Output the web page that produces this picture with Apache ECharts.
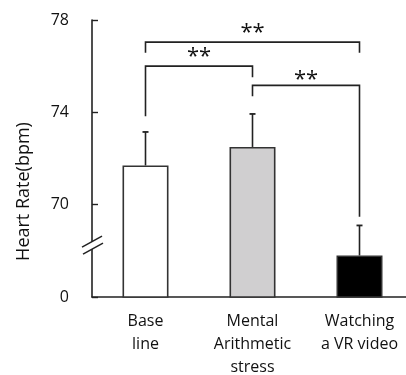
<!DOCTYPE html>
<html>
<head>
<meta charset="utf-8">
<script src="https://cdn.jsdelivr.net/npm/echarts@6/dist/echarts.min.js"></script>
<style>
  html, body { margin: 0; padding: 0; background: #fff; }
  #chart { width: 406px; height: 375px; }
</style>
</head>
<body>
<div id="chart"></div>
<script>
// Heart rate under three conditions (mean, with upper SD whisker)
const categories = ['Base\nline', 'Mental\nArithmetic\nstress', 'Watching\na VR video'];
const meanHR = [71.7, 72.5, 67.8];
const sdHR = [1.45, 1.43, 1.3];
const barFills = ['#ffffff', '#d0cfd0', '#000000'];

// Broken y axis: the bottom of the scale is shown as 0
const axisFloor = 66;
const axisTop = 78;
const axisStep = 4;
const breakAt = 68.25;

// Significance brackets between conditions
const bracketFrom = [0, 0, 1];
const bracketTo = [2, 1, 2];
const bracketY = [77.04, 76.0, 75.17];
const legFromY = [76.58, 73.83, 74.7];
const legToY = [76.58, 75.52, 69.48];
const starY = [77.68, 76.61, 75.65];
const starText = ['**', '**', '**'];

const ink = '#222';
const font = '"Open Sans", "Noto Sans", sans-serif';

const chart = echarts.init(document.getElementById('chart'), null, { renderer: 'canvas' });

const errorData = meanHR.map((m, i) => [i, m, m + sdHR[i]]);
const bracketData = bracketFrom.map((f, i) => [f, bracketTo[i], bracketY[i], legFromY[i], legToY[i], starY[i], i]);

chart.setOption({
  animation: false,
  grid: { left: 92, right: -7, top: 20, bottom: 78, outerBoundsMode: 'none' },
  xAxis: {
    type: 'category',
    data: categories,
    axisLine: { lineStyle: { color: ink, width: 1.6 } },
    axisTick: { inside: true, length: 5, lineStyle: { color: ink, width: 1.4 } },
    axisLabel: { color: '#111', fontFamily: font, fontSize: 16, lineHeight: 23, margin: 13, interval: 0 }
  },
  yAxis: {
    type: 'value',
    min: axisFloor,
    max: axisTop,
    interval: axisStep,
    axisLine: { show: true, lineStyle: { color: ink, width: 1.6 } },
    axisTick: { show: true, inside: true, length: 6, lineStyle: { color: ink, width: 1.4 } },
    splitLine: { show: false },
    axisLabel: {
      color: '#111', fontFamily: font, fontSize: 16, margin: 23,
      formatter: v => (v === axisFloor ? '0' : String(v))
    }
  },
  series: [
    {
      type: 'bar',
      barWidth: 46,
      data: meanHR.map((m, i) => ({
        value: m,
        itemStyle: { color: barFills[i], borderColor: '#333', borderWidth: 1.6 }
      })),
      z: 2
    },
    {
      type: 'custom',
      data: errorData,
      z: 3,
      renderItem(params, api) {
        const base = api.coord([api.value(0), api.value(1)]);
        const top = api.coord([api.value(0), api.value(2)]);
        return {
          type: 'group',
          children: [
            { type: 'line', shape: { x1: base[0], y1: base[1], x2: top[0], y2: top[1] }, style: { stroke: ink, lineWidth: 1.6 } },
            { type: 'line', shape: { x1: top[0] - 3, y1: top[1], x2: top[0] + 3, y2: top[1] }, style: { stroke: ink, lineWidth: 1.8 } }
          ]
        };
      }
    },
    {
      type: 'custom',
      data: bracketData,
      z: 4,
      renderItem(params, api) {
        const a = api.coord([api.value(0), api.value(2)]);
        const b = api.coord([api.value(1), api.value(2)]);
        const aLeg = api.coord([api.value(0), api.value(3)]);
        const bLeg = api.coord([api.value(1), api.value(4)]);
        const s = api.coord([api.value(0), api.value(5)]);
        const midX = (a[0] + b[0]) / 2;
        return {
          type: 'group',
          children: [
            {
              type: 'polyline',
              shape: { points: [[aLeg[0], aLeg[1]], [a[0], a[1]], [b[0], b[1]], [bLeg[0], bLeg[1]]] },
              style: { stroke: ink, lineWidth: 1.6, fill: null }
            },
            {
              // asterisks sit high in the em box, so the text is nudged down
              type: 'text',
              style: {
                x: midX, y: s[1] + 5, text: starText[api.value(6)],
                fill: '#111', font: '22px ' + font, align: 'center', verticalAlign: 'middle'
              }
            }
          ]
        };
      }
    }
  ]
});

// Axis break mark and the y-axis title
const yAxisX = 92;
const by = chart.convertToPixel({ yAxisIndex: 0 }, breakAt);
const midY = chart.convertToPixel({ yAxisIndex: 0 }, (axisFloor + axisTop) / 2);
chart.setOption({
  graphic: [
    {
      type: 'polygon',
      shape: { points: [[yAxisX - 10, by + 2], [yAxisX + 10, by - 9], [yAxisX + 11, by - 2], [yAxisX - 9, by + 9]] },
      style: { fill: '#fff' },
      z: 10
    },
    {
      type: 'line',
      shape: { x1: yAxisX - 10, y1: by + 2, x2: yAxisX + 10, y2: by - 9 },
      style: { stroke: ink, lineWidth: 1.5 },
      z: 11
    },
    {
      type: 'line',
      shape: { x1: yAxisX - 9, y1: by + 9, x2: yAxisX + 11, y2: by - 2 },
      style: { stroke: ink, lineWidth: 1.5 },
      z: 11
    },
    {
      type: 'text',
      x: 24, y: midY + 33,
      rotation: Math.PI / 2,
      style: { text: 'Heart Rate(bpm)', fill: '#111', font: '18px ' + font, align: 'center', verticalAlign: 'middle' },
      z: 11
    }
  ]
});
</script>
</body>
</html>
